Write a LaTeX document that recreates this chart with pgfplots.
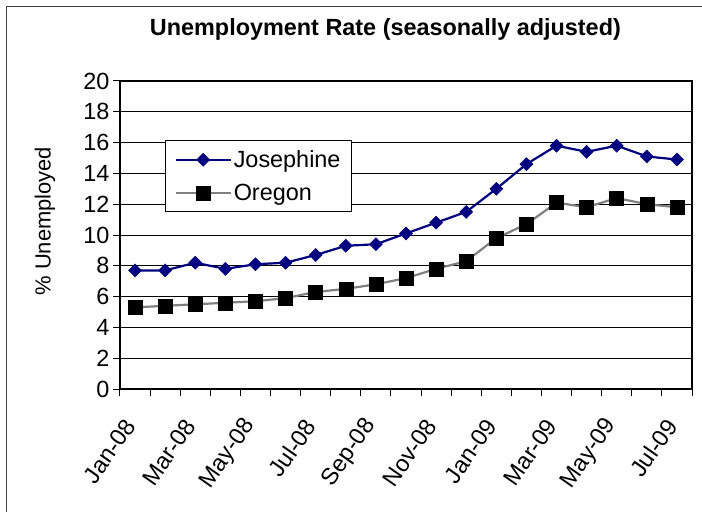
\documentclass[border=0pt]{standalone}
\usepackage{pgfplots}
\pgfplotsset{compat=1.18}
\usepackage{fontspec}
\setmainfont{Liberation Sans}
\definecolor{navyline}{RGB}{0,0,128}
\definecolor{grayline}{RGB}{128,128,128}

\begin{document}
\begin{tikzpicture}
\path[use as bounding box] (-120bp,-123bp) rectangle (582bp,389bp);
% chart area border (only left and top edges are inside the picture)
\draw[line width=1bp, black!75] (-113bp,-123bp) -- (-113bp,382bp) -- (582bp,382bp);
\begin{axis}[
  at={(0,0)}, anchor=south west,
  scale only axis, width=572bp, height=308bp,
  xmin=-0.5, xmax=18.5, ymin=0, ymax=20,
  ytick={0,2,...,20},
  xtick={-0.5,1.5,...,17.5},
  minor xtick={0.5,2.5,...,18.5},
  xticklabels={Jan-08,Mar-08,May-08,Jul-08,Sep-08,Nov-08,Jan-09,Mar-09,May-09,Jul-09},
  tick pos=left, tick align=outside,
  major tick length=7bp, minor tick length=7bp,
  tick style={black, line width=1bp},
  every minor tick/.style={black, line width=1bp},
  ymajorgrids, major grid style={black, line width=0.9bp},
  axis line style={black, line width=2bp},
  /pgf/number format/assume math mode=true,
  ticklabel style={font=\fontsize{23.5}{27}\selectfont},
  x tick label style={xshift=12bp, yshift=-23bp, rotate=55, anchor=east},
  title={Unemployment Rate (seasonally adjusted)},
  title style={at={(axis description cs:0.464,1.149)}, anchor=center, font=\fontsize{23.5}{28}\selectfont\bfseries},
  ylabel={\% Unemployed},
  ylabel style={at={(axis description cs:-0.131,0.545)}, anchor=center, font=\fontsize{22}{26}\selectfont},
  legend style={at={(axis description cs:0.079,0.808)}, anchor=north west,
    draw=black, line width=0.8bp, font=\fontsize{23.5}{27}\selectfont,
    inner xsep=9bp, inner ysep=8bp, row sep=11bp,
    legend cell align=left},
  legend image code/.code={\draw[mark repeat=2, mark phase=2, #1]
    plot coordinates {(0bp,0bp) (27.5bp,0bp) (55bp,0bp)};},
]
\addplot[navyline, line width=2.2bp, mark=square*, mark size=4.6bp,
  mark options={rotate=45, solid, fill=navyline, draw=navyline, line width=0.5bp}]
  coordinates {
  (0,7.7) (1,7.7) (2,8.2) (3,7.8) (4,8.1) (5,8.2) (6,8.7) (7,9.3) (8,9.4)
  (9,10.1) (10,10.8) (11,11.5) (12,13.0) (13,14.6) (14,15.8) (15,15.4)
  (16,15.8) (17,15.1) (18,14.9)};
\addplot[grayline, line width=2.2bp, mark=square*, mark size=7bp,
  mark options={solid, fill=black, draw=black, line width=0.5bp}]
  coordinates {
  (0,5.3) (1,5.4) (2,5.5) (3,5.6) (4,5.7) (5,5.9) (6,6.3) (7,6.5) (8,6.8)
  (9,7.2) (10,7.8) (11,8.3) (12,9.8) (13,10.7) (14,12.1) (15,11.8)
  (16,12.4) (17,12.0) (18,11.8)};
\legend{Josephine, Oregon}
\end{axis}
\end{tikzpicture}
\end{document}
